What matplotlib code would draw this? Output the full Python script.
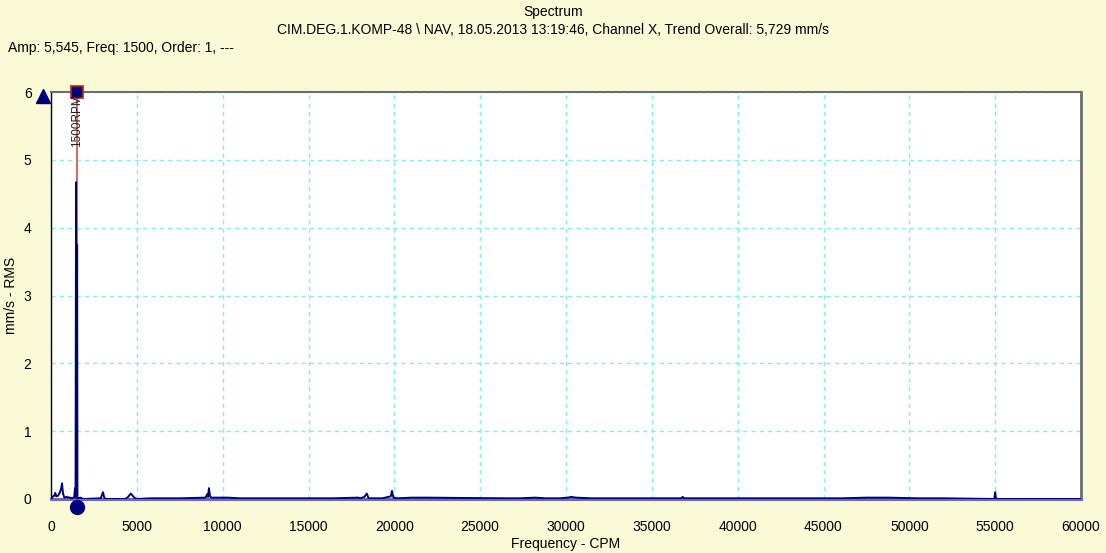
import matplotlib
matplotlib.use("Agg")
import matplotlib.pyplot as plt

plt.rcParams['font.family'] = ['Liberation Sans', 'DejaVu Sans']

# ---- data ----
title_main = "Spectrum"
title_sub = "CIM.DEG.1.KOMP-48 \\ NAV, 18.05.2013 13:19:46, Channel X, Trend Overall: 5,729 mm/s"
cursor_text = "Amp: 5,545, Freq: 1500, Order: 1, ---"
x_label = "Frequency - CPM"
y_label = "mm/s - RMS"
x_ticks = [0, 5000, 10000, 15000, 20000, 25000, 30000, 35000, 40000, 45000, 50000, 55000, 60000]
y_ticks = [0, 1, 2, 3, 4, 5, 6]

spec_freq = [0, 120, 200, 250, 300, 420, 520, 600, 640, 700, 780, 900, 1100, 1250, 1350, 1400, 1430,
             1460, 1480, 1500, 1520, 1540, 1600, 1700, 1900, 2900, 2980, 3030, 3100, 3200,
             4300, 4450, 4550, 4650, 4750, 4850, 5000, 5800, 6100, 7300, 7500, 9000, 9100,
             9150, 9200, 9260, 9350, 10000, 10300, 11000, 12500, 16200, 16400, 17900, 18000,
             18250, 18400, 18500, 19300, 19800, 19860, 19950, 20200, 21000, 21300, 21900,
             26500, 27300, 28200, 28800, 29600, 30100, 30300, 30600, 31500, 33100, 34500,
             35000, 36700, 36800, 36900, 46000, 47500, 48000, 48400, 48800, 50500, 52000,
             54950, 55000, 55050, 60000]
spec_amp = [0, 0.04, 0.05, 0.09, 0.04, 0.05, 0.10, 0.16, 0.23, 0.08, 0.02, 0.03, 0.02, 0.01, 0.03, 0.16, 0.02,
            4.67, 0.05, 0.02, 3.75, 0.02, 0.01, 0.02, 0.00, 0.01, 0.07, 0.10, 0.02, 0.00,
            0.00, 0.02, 0.05, 0.08, 0.05, 0.02, 0.00, 0.01, 0.01, 0.01, 0.01, 0.02, 0.07,
            0.03, 0.16, 0.04, 0.02, 0.02, 0.02, 0.01, 0.01, 0.01, 0.01, 0.02, 0.01,
            0.03, 0.08, 0.01, 0.01, 0.04, 0.12, 0.02, 0.01, 0.02, 0.02, 0.02,
            0.01, 0.01, 0.02, 0.01, 0.01, 0.02, 0.03, 0.02, 0.01, 0.01, 0.01,
            0.01, 0.01, 0.03, 0.01, 0.01, 0.02, 0.02, 0.02, 0.02, 0.01, 0.01,
            0.00, 0.10, 0.00, 0.00]

cursor_freq = 1500
cursor_label = "1500RPM"
y_cursor = 5.94

# ---- figure ----
bg = "#FAFAD7"
fig = plt.figure(figsize=(11.06, 5.53), dpi=100, facecolor=bg)
ax = fig.add_axes([51/1106, 1-499/553, 1030/1106, 407/553], facecolor="white")

ax.plot(spec_freq, spec_amp, color="#00007A", lw=1.4, zorder=6)

ax.set_xlim(0, 60000)
ax.set_ylim(0, 6)
ax.set_xticks(x_ticks)
ax.set_yticks(y_ticks)
ax.set_xticklabels([str(v) for v in x_ticks])
ax.tick_params(axis='both', length=0, labelsize=10, colors="#000000")
ax.tick_params(axis='x', pad=15)
ax.tick_params(axis='y', pad=14)
ax.grid(True, color="#7FEFEF", linestyle=(0, (3, 3)), lw=1, zorder=1)

ax.spines['left'].set_color("#000000")
ax.spines['left'].set_linewidth(1)
ax.spines['top'].set_color("#6E6E6E")
ax.spines['top'].set_linewidth(1.5)
ax.spines['right'].set_color("#6E6E6E")
ax.spines['right'].set_linewidth(2)
ax.spines['bottom'].set_color("#6C6CB4")
ax.spines['bottom'].set_linewidth(2.2)
ax.spines['bottom'].set_zorder(4)

# cursor
ax.axvline(cursor_freq, color="#D86A6A", lw=1.5, zorder=5)
ax.plot([cursor_freq], [6], marker='s', ms=9, mfc="#00007A", mec="#C02020", mew=1.2,
        clip_on=False, zorder=7)
ax.plot([cursor_freq], [-0.12], marker='o', ms=10, mfc="#00007A", mec="#00007A",
        clip_on=False, zorder=7)
ax.plot([-470], [y_cursor], marker='^', ms=10, mfc="#00007A", mec="#00007A",
        clip_on=False, zorder=7)
ax.text(cursor_freq, 5.58, cursor_label, rotation=90, ha='center', va='center',
        fontsize=8.5, color="#202020", zorder=8)

ax.set_xlabel(x_label, fontsize=10, labelpad=2)
ax.set_ylabel(y_label, fontsize=10)
ax.yaxis.set_label_coords(-(51 - 18) / 1030, 0.5)

fig.text(0.5, 1-12/553, title_main, ha='center', va='center', fontsize=10)
fig.text(0.5, 1-30/553, title_sub, ha='center', va='center', fontsize=10)
fig.text(8/1106, 1-48/553, cursor_text, ha='left', va='center', fontsize=10)

fig.savefig("out.png", dpi=100, facecolor=bg)
